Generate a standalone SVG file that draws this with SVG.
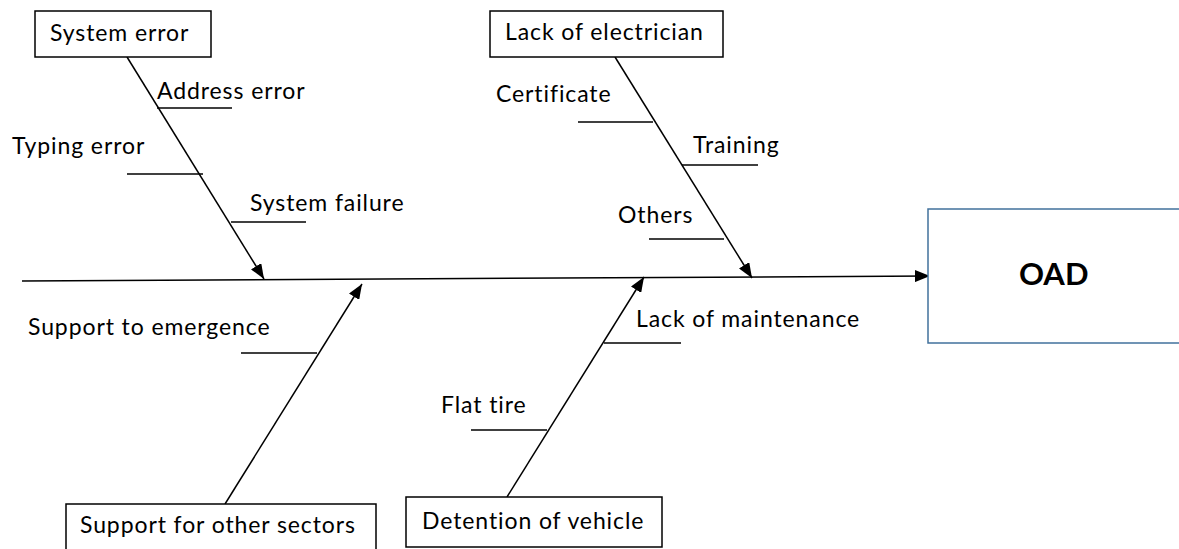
<svg xmlns="http://www.w3.org/2000/svg" width="1179" height="549" viewBox="0 0 1179 549">
<style>
text{font-family:Lato,"Open Sans","Liberation Sans",sans-serif;font-size:23px;letter-spacing:0.9px;fill:#000}
.box{fill:#fff;stroke:#000;stroke-width:1.5}
.bone{stroke:#000;stroke-width:1.5;fill:none;marker-end:url(#ah)}
.sub{stroke:#000;stroke-width:1.3;fill:none}
</style>
<defs>
<marker id="ah" markerUnits="userSpaceOnUse" markerWidth="16" markerHeight="12" refX="15" refY="6" orient="auto">
<path d="M0,0 L15,6 L0,12 Z" fill="#000"/>
</marker>
</defs>
<rect width="1179" height="549" fill="#fff"/>
<g id="connectors">
<line class="bone" x1="22" y1="281" x2="930" y2="276"/>
<line class="bone" x1="127" y1="57" x2="264" y2="279"/>
<line class="bone" x1="615" y1="57" x2="752" y2="278"/>
<line class="bone" x1="225" y1="504" x2="362" y2="284"/>
<line class="bone" x1="507" y1="497" x2="644" y2="277"/>
<line class="sub" x1="157" y1="108" x2="232" y2="108"/>
<line class="sub" x1="127" y1="174" x2="203" y2="174"/>
<line class="sub" x1="231" y1="222" x2="306" y2="222"/>
<line class="sub" x1="578" y1="122" x2="653" y2="122"/>
<line class="sub" x1="682" y1="165" x2="758" y2="165"/>
<line class="sub" x1="649" y1="239" x2="724" y2="239"/>
<line class="sub" x1="241" y1="353" x2="317" y2="353"/>
<line class="sub" x1="604" y1="343" x2="681" y2="343"/>
<line class="sub" x1="471" y1="430" x2="547" y2="430"/>
</g>
<g id="labels">
<text x="157" y="99">Address error</text>
<text x="12" y="154">Typing error</text>
<text x="250" y="211">System failure</text>
<text x="496" y="102">Certificate</text>
<text x="693" y="153">Training</text>
<text x="618" y="223">Others</text>
<text x="28" y="335">Support to emergence</text>
<text x="636" y="327">Lack of maintenance</text>
<text x="441" y="413">Flat tire</text>
</g>
<g id="node-system-error">
<rect class="box" x="35" y="11" width="176" height="46"/>
<text x="50" y="41">System error</text>
</g>
<g id="node-lack-of-electrician">
<rect class="box" x="490" y="11" width="233" height="46"/>
<text x="505" y="40">Lack of electrician</text>
</g>
<g id="node-support-other-sectors">
<path class="box" d="M66,549 V504 H376 V549"/>
<text x="80" y="533">Support for other sectors</text>
</g>
<g id="node-detention-vehicle">
<rect class="box" x="406" y="497" width="256" height="50"/>
<text x="422" y="529">Detention of vehicle</text>
</g>
<g id="node-oad">
<rect x="928" y="209" width="260" height="134" fill="#fff" stroke="#41719C" stroke-width="1.5"/>
<text x="1019" y="285" style="font-size:31px;font-weight:bold;letter-spacing:0">OAD</text>
</g>
</svg>
